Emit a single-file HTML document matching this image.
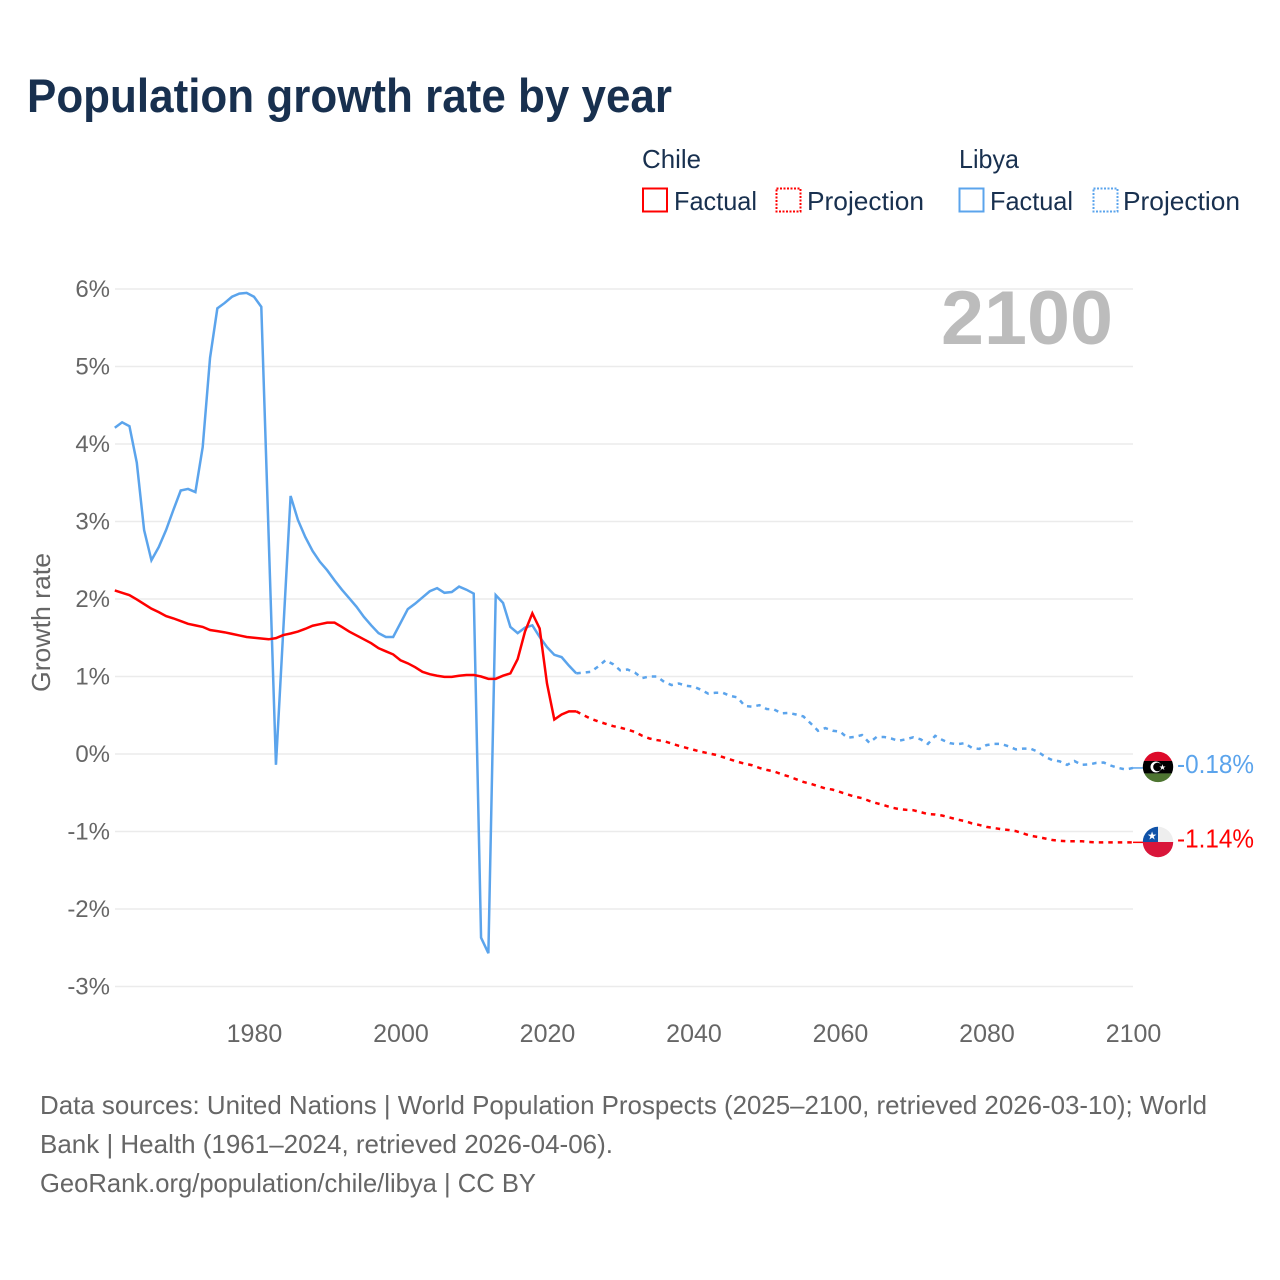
<!DOCTYPE html>
<html lang="en">
<head>
<meta charset="utf-8">
<title>Population growth rate by year</title>
<style>
html,body{margin:0;padding:0;background:#fff;}
svg{display:block;font-family:"Liberation Sans",sans-serif;}
</style>
</head>
<body>
<svg id="chart" xmlns="http://www.w3.org/2000/svg" width="1280" height="1280" viewBox="0 0 1280 1280">
  <rect x="0" y="0" width="1280" height="1280" fill="#fff"/>
  <text x="27" y="112" font-size="47" font-weight="700" fill="#18304f" textLength="645" lengthAdjust="spacingAndGlyphs">Population growth rate by year</text>

  <g font-size="26" fill="#18304f">
    <text x="642" y="168" textLength="59" lengthAdjust="spacingAndGlyphs">Chile</text>
    <text x="959" y="168" textLength="60" lengthAdjust="spacingAndGlyphs">Libya</text>
    <rect x="643" y="188.5" width="24" height="23" fill="none" stroke="#ff0000" stroke-width="2"/>
    <text x="674" y="210" textLength="83" lengthAdjust="spacingAndGlyphs">Factual</text>
    <rect x="776.5" y="188.5" width="24" height="23" fill="none" stroke="#ff0000" stroke-width="2" stroke-dasharray="2 1.5"/>
    <text x="807" y="210" textLength="117" lengthAdjust="spacingAndGlyphs">Projection</text>
    <rect x="959.5" y="188.5" width="24" height="23" fill="none" stroke="#5ba4ec" stroke-width="2"/>
    <text x="990" y="210" textLength="83" lengthAdjust="spacingAndGlyphs">Factual</text>
    <rect x="1093.5" y="188.5" width="24" height="23" fill="none" stroke="#5ba4ec" stroke-width="2" stroke-dasharray="2 1.5"/>
    <text x="1123" y="210" textLength="117" lengthAdjust="spacingAndGlyphs">Projection</text>
  </g>

  <g id="grid"></g>
  <g id="y-ticks"></g>
  <g id="x-ticks"></g>

  <text transform="translate(50,622.5) rotate(-90)" text-anchor="middle" font-size="26" fill="#666" textLength="139" lengthAdjust="spacingAndGlyphs">Growth rate</text>
  <text x="941" y="344" font-size="76" font-weight="700" fill="#bcbcbc" textLength="172" lengthAdjust="spacingAndGlyphs">2100</text>

  <g id="series"></g>

  <defs>
    <clipPath id="libya-clip"><circle id="libya-clip-circle" cx="1158" cy="767" r="15.2"/></clipPath>
    <clipPath id="chile-clip"><circle id="chile-clip-circle" cx="1158" cy="842" r="15.2"/></clipPath>
  </defs>
  <g id="libya-flag">
    <g clip-path="url(#libya-clip)">
      <rect x="1142" y="751" width="32" height="10" fill="#dd0a2a"/>
      <rect x="1142" y="761" width="32" height="12.5" fill="#000"/>
      <rect x="1142" y="773.5" width="32" height="10" fill="#4e7531"/>
      <circle cx="1156" cy="767" r="5.5" fill="#fff"/>
      <circle cx="1157.5" cy="767" r="4.3" fill="#000"/>
      <text x="1162.5" y="770" font-size="8" text-anchor="middle" fill="#fff">★</text>
    </g>
  </g>
  <g id="chile-flag">
    <g clip-path="url(#chile-clip)">
      <rect x="1142" y="826" width="32" height="16" fill="#eeeeee"/>
      <rect x="1142" y="826" width="16" height="16" fill="#0f52a8"/>
      <rect x="1142" y="842" width="32" height="16" fill="#d9163a"/>
      <text x="1152" y="839.5" font-size="11" text-anchor="middle" fill="#fff">★</text>
    </g>
  </g>
  <text id="libya-end-label" x="1177" y="773" font-size="26" fill="#5ba4ec" textLength="77" lengthAdjust="spacingAndGlyphs"></text>
  <text id="chile-end-label" x="1177" y="847" font-size="26" fill="#ff0000" textLength="77" lengthAdjust="spacingAndGlyphs"></text>

  <g font-size="26" fill="#666">
    <text x="40" y="1114" textLength="1167" lengthAdjust="spacingAndGlyphs">Data sources: United Nations | World Population Prospects (2025–2100, retrieved 2026-03-10); World</text>
    <text x="40" y="1153" textLength="573" lengthAdjust="spacingAndGlyphs">Bank | Health (1961–2024, retrieved 2026-04-06).</text>
    <text x="40" y="1192" textLength="496" lengthAdjust="spacingAndGlyphs">GeoRank.org/population/chile/libya | CC BY</text>
  </g>
</svg>

<script>
const xTickYears = [1980, 2000, 2020, 2040, 2060, 2080, 2100];
const yTickValues = [6, 5, 4, 3, 2, 1, 0, -1, -2, -3];
const firstFactualYear = [1961];
const firstProjectionYear = [2024];

const libyaFactual = [
  4.21, 4.28, 4.23, 3.76, 2.89, 2.50, 2.67, 2.89, 3.15, 3.40,
  3.42, 3.38, 3.96, 5.11, 5.75, 5.82, 5.90, 5.94, 5.95, 5.90,
  5.77, 2.82, -0.14, 1.60, 3.33, 3.02, 2.80, 2.62, 2.48, 2.37,
  2.24, 2.12, 2.01, 1.90, 1.77, 1.66, 1.56, 1.51, 1.51, 1.69,
  1.87, 1.94, 2.02, 2.10, 2.14, 2.08, 2.09, 2.16, 2.12, 2.07,
  -2.37, -2.57, 2.05, 1.95, 1.64, 1.56, 1.63, 1.66, 1.51, 1.38,
  1.28, 1.25, 1.14, 1.04
];
const libyaProjection = [
  1.04, 1.05, 1.06, 1.13, 1.21, 1.16, 1.08, 1.09, 1.05, 0.98,
  1.00, 1.00, 0.93, 0.89, 0.91, 0.88, 0.87, 0.83, 0.78, 0.79,
  0.79, 0.75, 0.73, 0.62, 0.61, 0.63, 0.58, 0.575, 0.525, 0.53,
  0.51, 0.485, 0.395, 0.30, 0.335, 0.30, 0.29, 0.21, 0.22, 0.245,
  0.145, 0.22, 0.22, 0.20, 0.17, 0.19, 0.215, 0.19, 0.13, 0.235,
  0.18, 0.14, 0.125, 0.14, 0.08, 0.065, 0.115, 0.13, 0.13, 0.10,
  0.06, 0.07, 0.07, 0.03, -0.035, -0.08, -0.095, -0.14, -0.09, -0.14,
  -0.135, -0.115, -0.11, -0.15, -0.18, -0.20, -0.18
];
const chileFactual = [
  2.11, 2.08, 2.05, 1.995, 1.935, 1.875, 1.83, 1.78, 1.75, 1.715,
  1.68, 1.66, 1.64, 1.60, 1.585, 1.57, 1.55, 1.53, 1.51, 1.50,
  1.49, 1.48, 1.495, 1.535, 1.555, 1.58, 1.615, 1.655, 1.675, 1.695,
  1.695, 1.64, 1.58, 1.53, 1.48, 1.43, 1.365, 1.325, 1.285, 1.21,
  1.17, 1.12, 1.06, 1.03, 1.01, 0.995, 0.995, 1.01, 1.02, 1.02,
  1.00, 0.97, 0.97, 1.01, 1.04, 1.225, 1.58, 1.815, 1.62, 0.91,
  0.445, 0.51, 0.55, 0.55
];
const chileProjection = [
  0.55, 0.50, 0.455, 0.42, 0.39, 0.36, 0.34, 0.315, 0.285, 0.235,
  0.20, 0.18, 0.165, 0.135, 0.105, 0.08, 0.055, 0.03, 0.01, -0.01,
  -0.04, -0.07, -0.10, -0.125, -0.145, -0.18, -0.205, -0.225, -0.26, -0.29,
  -0.325, -0.36, -0.385, -0.415, -0.445, -0.46, -0.49, -0.52, -0.55, -0.57,
  -0.605, -0.635, -0.66, -0.69, -0.71, -0.72, -0.725, -0.75, -0.775, -0.78,
  -0.795, -0.82, -0.845, -0.865, -0.895, -0.915, -0.94, -0.955, -0.97, -0.98,
  -0.995, -1.025, -1.055, -1.07, -1.09, -1.11, -1.12, -1.125, -1.125, -1.125,
  -1.135, -1.14, -1.14, -1.14, -1.14, -1.14, -1.14
];

const SVG_NS = 'http://www.w3.org/2000/svg';
const BLUE = '#5ba4ec';
const RED = '#ff0000';
const plotLeft = 114.8;
const plotRight = 1133;

function xScale(year) {
  return plotLeft + (year - 1961) * (plotRight - plotLeft) / (2100 - 1961);
}
function yScale(value) {
  return 754 - value * 77.5;
}
function formatPercent(value) {
  return value + '%';
}

const gridLayer = document.getElementById('grid');
const yTickLayer = document.getElementById('y-ticks');
yTickValues.forEach(function (value) {
  const line = document.createElementNS(SVG_NS, 'line');
  
  
  line.setAttribute('x1', 115);
  line.setAttribute('x2', plotRight);
  line.setAttribute('y1', yScale(value));
  line.setAttribute('y2', yScale(value));
  line.setAttribute('stroke', '#ebebeb');
  line.setAttribute('stroke-width', '1.5');
  gridLayer.appendChild(line);

  const label = document.createElementNS(SVG_NS, 'text');
  
  
  label.setAttribute('x', 110);
  label.setAttribute('y', yScale(value) + 8);
  label.setAttribute('text-anchor', 'end');
  label.setAttribute('font-size', '24');
  label.setAttribute('fill', '#666');
  label.textContent = formatPercent(value);
  yTickLayer.appendChild(label);
});

const xTickLayer = document.getElementById('x-ticks');
xTickYears.forEach(function (year) {
  const label = document.createElementNS(SVG_NS, 'text');
  
  
  label.setAttribute('x', xScale(year) + 0.5);
  label.setAttribute('y', 1042);
  label.setAttribute('text-anchor', 'middle');
  label.setAttribute('font-size', '25');
  label.setAttribute('fill', '#666');
  label.textContent = String(year);
  xTickLayer.appendChild(label);
});

function pointsFor(values, startYear) {
  return values.map(function (value, i) {
    return xScale(startYear + i).toFixed(2) + ',' + yScale(value).toFixed(2);
  }).join(' ');
}

const seriesLayer = document.getElementById('series');
function drawSeries(name, values, startYear, color, dashed) {
  const line = document.createElementNS(SVG_NS, 'polyline');
  
  
  line.setAttribute('points', pointsFor(values, startYear));
  line.setAttribute('fill', 'none');
  line.setAttribute('stroke', color);
  line.setAttribute('stroke-width', '2.5');
  line.setAttribute('stroke-linejoin', 'miter');
  if (dashed) {
    line.setAttribute('stroke-dasharray', '4.5 5');
  }
  seriesLayer.appendChild(line);
}
drawSeries('libya-projection-line', libyaProjection, firstProjectionYear[0], BLUE, true);
drawSeries('libya-factual-line', libyaFactual, firstFactualYear[0], BLUE, false);
drawSeries('chile-projection-line', chileProjection, firstProjectionYear[0], RED, true);
drawSeries('chile-factual-line', chileFactual, firstFactualYear[0], RED, false);

function drawConnector(name, value, color) {
  const line = document.createElementNS(SVG_NS, 'line');
  
  
  line.setAttribute('x1', plotRight);
  line.setAttribute('x2', 1144);
  line.setAttribute('y1', yScale(value));
  line.setAttribute('y2', yScale(value));
  line.setAttribute('stroke', color);
  line.setAttribute('stroke-width', '1.5');
  seriesLayer.appendChild(line);
}
const libyaLast = libyaProjection[libyaProjection.length - 1];
const chileLast = chileProjection[chileProjection.length - 1];
drawConnector('libya-end-connector', libyaLast, BLUE);
drawConnector('chile-end-connector', chileLast, RED);

document.getElementById('libya-end-label').textContent = libyaLast.toFixed(2) + '%';
document.getElementById('chile-end-label').textContent = chileLast.toFixed(2) + '%';
document.getElementById('libya-end-label').setAttribute('y', yScale(libyaLast) + 5);
document.getElementById('chile-end-label').setAttribute('y', yScale(chileLast) + 5);
document.getElementById('libya-flag').setAttribute('transform', 'translate(0,' + (yScale(libyaLast) - 768) + ')');
document.getElementById('chile-flag').setAttribute('transform', 'translate(0,' + (yScale(chileLast) - 842.35) + ')');
</script>
</body>
</html>
